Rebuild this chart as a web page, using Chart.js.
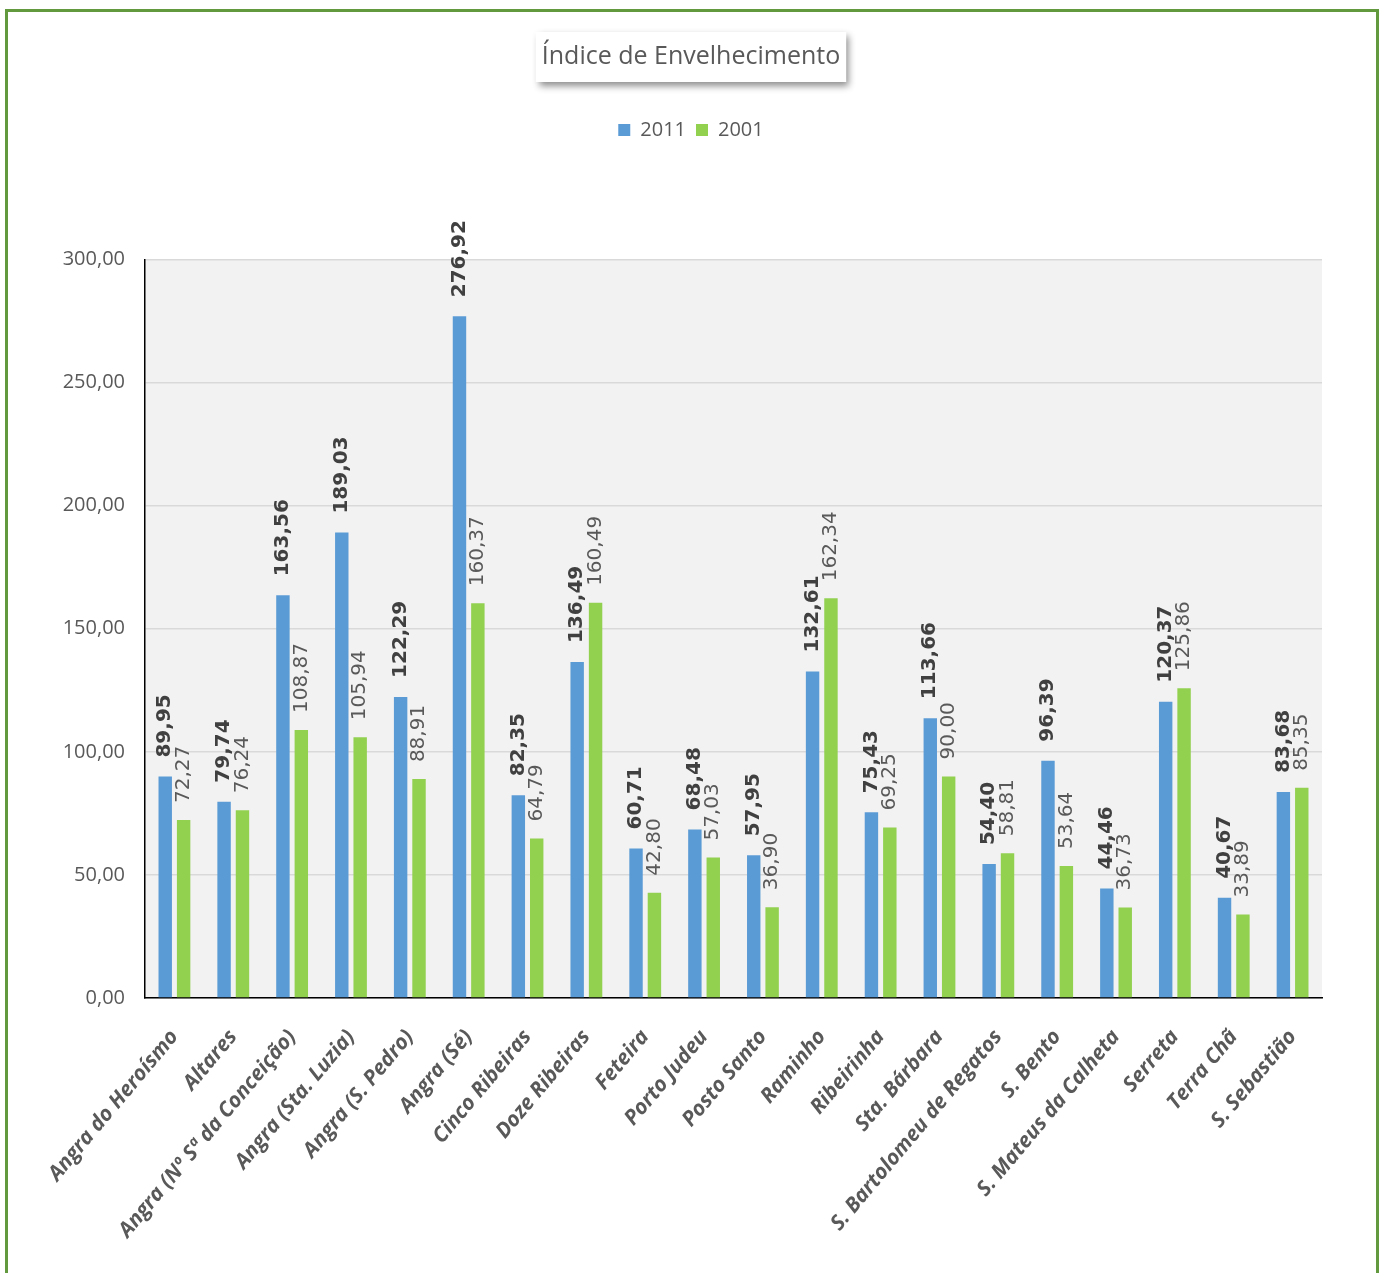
<!DOCTYPE html>
<html>
<head>
<meta charset="utf-8">
<script src="https://cdn.jsdelivr.net/npm/chart.js@4.4.1/dist/chart.umd.min.js"></script>
<style>
  html, body { margin: 0; padding: 0; background: #fff; overflow: hidden; }
  #frame { position: absolute; left: 5px; top: 9px; width: 1368px; height: 1300px; border: 3px solid #62993e; }
  #wrap { position: absolute; left: 0; top: 0; width: 1382px; height: 1273px; }
</style>
</head>
<body>
<div id="frame"></div>
<div id="wrap"><canvas id="agingChart"></canvas></div>
<script>
const categories = [
    "Angra do Heroísmo", "Altares", "Angra (Nº Sª da Conceição)", "Angra (Sta. Luzia)",
    "Angra (S. Pedro)", "Angra (Sé)", "Cinco Ribeiras", "Doze Ribeiras", "Feteira",
    "Porto Judeu", "Posto Santo", "Raminho", "Ribeirinha", "Sta. Bárbara",
    "S. Bartolomeu de Regatos", "S. Bento", "S. Mateus da Calheta", "Serreta",
    "Terra Chã", "S. Sebastião"
];

const values2011 = [89.95, 79.74, 163.56, 189.03, 122.29, 276.92, 82.35, 136.49, 60.71, 68.48,
    57.95, 132.61, 75.43, 113.66, 54.40, 96.39, 44.46, 120.37, 40.67, 83.68];

const values2001 = [72.27, 76.24, 108.87, 105.94, 88.91, 160.37, 64.79, 160.49, 42.80, 57.03,
    36.90, 162.34, 69.25, 90.00, 58.81, 53.64, 36.73, 125.86, 33.89, 85.35];

const yTicks = [0, 50, 100, 150, 200, 250, 300];

const fmt = v => v.toFixed(2).replace(".", ",");

/* plot background + title box */
const backdrop = {
    id: "backdrop",
    beforeDraw(chart) {
        const { ctx, chartArea } = chart;
        ctx.save();
        ctx.fillStyle = "#f2f2f2";
        ctx.fillRect(chartArea.left, chartArea.top, chartArea.right - chartArea.left, chartArea.bottom - chartArea.top);

        const t = chart.titleBlock;
        const opts = chart.options.plugins.title;
        ctx.font = opts.font.weight + " " + opts.font.size + "px " + opts.font.family;
        const w = ctx.measureText(opts.text).width + 12;
        const cx = (t.left + t.right) / 2;
        const cy = t.top + opts.padding.top + opts.font.size * 0.6;
        ctx.shadowColor = "rgba(0,0,0,0.45)";
        ctx.shadowBlur = 7;
        ctx.shadowOffsetX = 3;
        ctx.shadowOffsetY = 4;
        ctx.fillStyle = "#ffffff";
        ctx.fillRect(cx - w / 2, cy - 25, w, 50);
        ctx.restore();
    }
};

/* rotated value labels above the bars */
const valueLabels = {
    id: "valueLabels",
    afterDatasetsDraw(chart) {
        const { ctx } = chart;
        chart.data.datasets.forEach((ds, i) => {
            const meta = chart.getDatasetMeta(i);
            const bold = i === 0;
            ctx.save();
            ctx.font = (bold ? "bold " : "") + "20px 'DejaVu Sans'";
            ctx.fillStyle = bold ? "#404040" : "#595959";
            ctx.textAlign = "left";
            ctx.textBaseline = "middle";
            meta.data.forEach((bar, j) => {
                ctx.save();
                ctx.translate(bar.x, bar.y - (bold ? 19 : 17));
                ctx.rotate(-Math.PI / 2);
                ctx.fillText(fmt(ds.data[j]), 0, 0);
                ctx.restore();
            });
            ctx.restore();
        });
    }
};

new Chart(document.getElementById("agingChart"), {
    type: "bar",
    data: {
        labels: categories,
        datasets: [
            { label: "2011", data: values2011, backgroundColor: "#5b9bd5" },
            { label: "2001", data: values2001, backgroundColor: "#92d050" }
        ]
    },
    options: {
        responsive: true,
        maintainAspectRatio: false,
        animation: false,
        categoryPercentage: 0.625,
        barPercentage: 0.73,
        layout: {
            padding: 0
        },
        scales: {
            x: {
                grid: { display: false },
                border: { color: "#000000", width: 1.5 },
                ticks: {
                    color: "#595959",
                    font: { family: "'Open Sans'", size: 21, weight: "bold", style: "italic" },
                    minRotation: 50,
                    maxRotation: 50,
                    autoSkip: false,
                    padding: 19
                },
                afterFit(scale) { scale.height = 275; }
            },
            y: {
                min: 0,
                max: 300,
                afterBuildTicks(scale) { scale.ticks = yTicks.map(v => ({ value: v })); },
                grid: { color: "#d9d9d9", lineWidth: 1.5, drawTicks: false },
                border: { color: "#000000", width: 1.5 },
                ticks: {
                    color: "#595959",
                    font: { family: "'Open Sans'", size: 20, weight: "500" },
                    padding: 20,
                    callback: v => fmt(v)
                },
                afterFit(scale) { scale.width = 145; }
            },
            /* empty right gutter so the title and legend stay centred on the page */
            gutter: {
                type: "linear",
                position: "right",
                display: true,
                grid: { display: false },
                border: { display: false },
                ticks: { display: false },
                afterFit(scale) { scale.width = 60; }
            }
        },
        plugins: {
            title: {
                display: true,
                text: "Índice de Envelhecimento",
                color: "#595959",
                font: { family: "'Open Sans'", size: 25, weight: "500" },
                padding: { top: 42, bottom: 38 }
            },
            /* blank spacer between the legend and the plot */
            subtitle: {
                display: true,
                text: " ",
                weight: 500,
                font: { size: 2 },
                padding: { top: 0, bottom: 107 }
            },
            legend: {
                labels: {
                    color: "#595959",
                    font: { family: "'Open Sans'", size: 20 },
                    boxWidth: 12,
                    boxHeight: 12,
                    padding: 10
                }
            },
            tooltip: { enabled: false }
        }
    },
    plugins: [backdrop, valueLabels]
});
</script>
</body>
</html>
